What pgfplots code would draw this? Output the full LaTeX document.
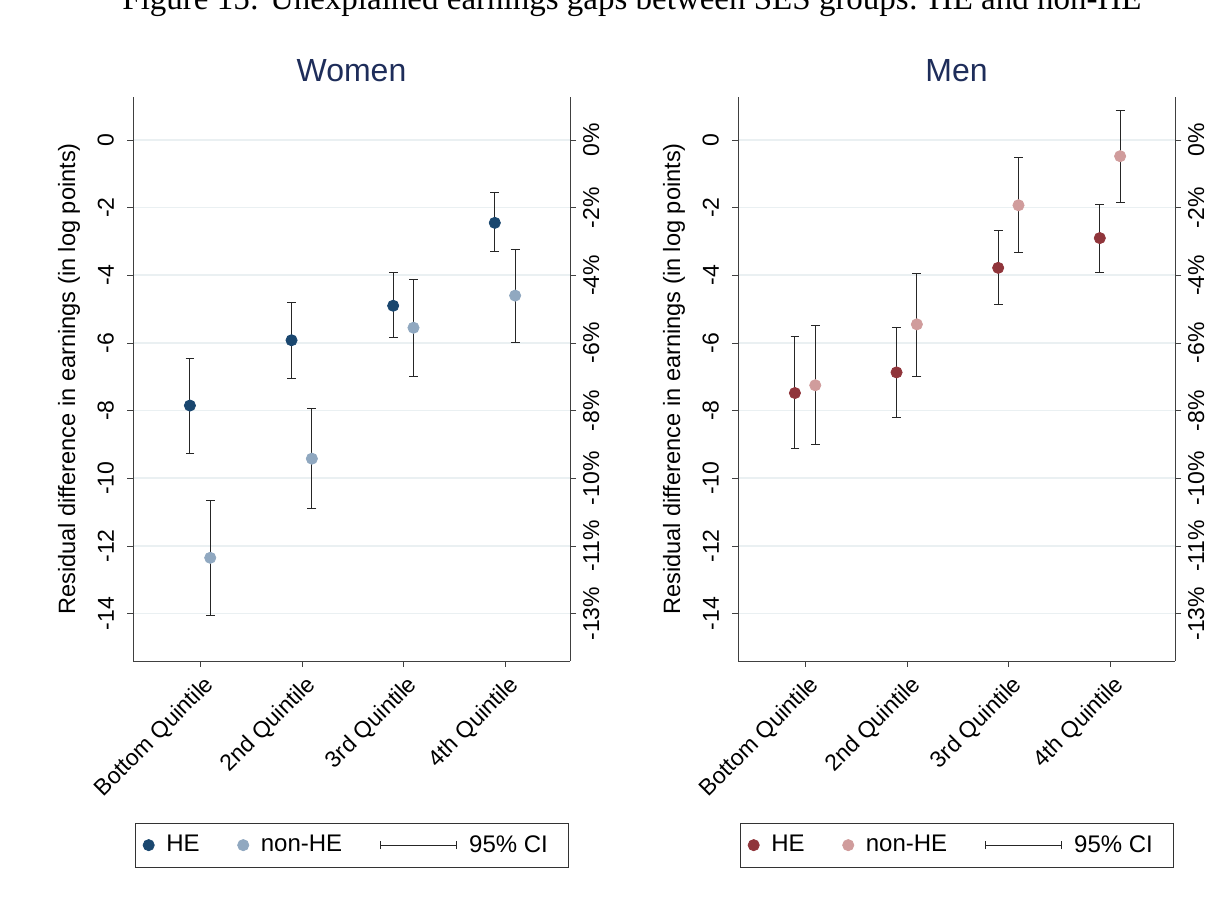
\documentclass[border=0pt]{standalone}
\usepackage{pgfplots}
\pgfplotsset{compat=1.18}
\usepackage{pgfplotstable}
\usepackage{fontspec}
\setmainfont{Liberation Sans}
\newfontfamily\serif{Liberation Serif}
\definecolor{wHE}{HTML}{1A476F}
\definecolor{wNH}{HTML}{90A8C0}
\definecolor{mHE}{HTML}{90353B}
\definecolor{mNH}{HTML}{D09C9C}
\definecolor{ttl}{HTML}{1E2D5A}
\definecolor{grd}{HTML}{EAF0F2}
\pgfplotstableread{
x y lo hi
0.9 -7.85 -9.25 -6.45
1.9 -5.92 -7.05 -4.80
2.9 -4.90 -5.85 -3.92
3.9 -2.45 -3.30 -1.55
}\wHEtab
\pgfplotstableread{
x y lo hi
1.1 -12.35 -14.05 -10.65
2.1 -9.42 -10.90 -7.92
3.1 -5.55 -6.98 -4.13
4.1 -4.60 -5.98 -3.22
}\wNHtab
\pgfplotstableread{
x y lo hi
0.9 -7.48 -9.12 -5.82
1.9 -6.87 -8.20 -5.53
2.9 -3.78 -4.87 -2.68
3.9 -2.90 -3.90 -1.90
}\mHEtab
\pgfplotstableread{
x y lo hi
1.1 -7.25 -9.00 -5.48
2.1 -5.45 -6.98 -3.93
3.1 -1.93 -3.32 -0.53
4.1 -0.48 -1.85 0.88
}\mNHtab
\pgfplotsset{
  base/.style={
    scale only axis, width=218.5pt, height=282pt,
    anchor=south west,
    xmin=0.34, xmax=4.64, ymin=-15.4, ymax=1.27,
    xtick={1,2,3,4},
    xticklabels={Bottom Quintile,2nd Quintile,3rd Quintile,4th Quintile},
    xticklabel style={rotate=45, anchor=north east, font=\fontsize{11.5}{13}\selectfont, xshift=2pt},
    ytick={0,-2,-4,-6,-8,-10,-12,-14},
    yticklabel style={rotate=90, anchor=south, font=\fontsize{11.5}{13}\selectfont, yshift=3pt},
    /pgf/number format/assume math mode=true,
    ymajorgrids, grid style={grd, line width=0.8pt},
    axis x line*=bottom, axis y line*=left,
    tick align=outside, major tick length=3pt,
    axis line style={black!75}, tick style={black!75},
    title style={font=\fontsize{16}{18}\selectfont, text=ttl, yshift=-2pt},
    ylabel={Residual difference in earnings (in log points)},
    ylabel style={font=\fontsize{11.8}{13}\selectfont, yshift=2pt},
    legend style={at={(0.5,-0.287)}, anchor=north, legend columns=3,
      font=\fontsize{12}{14}\selectfont, draw=black!80, inner sep=4pt,
      /tikz/every even column/.append style={column sep=13pt},
      nodes={inner xsep=6pt}},
  },
  rgt/.style={
    scale only axis, width=218.5pt, height=282pt,
    anchor=south west,
    xmin=0.34, xmax=4.64, ymin=-15.4, ymax=1.27,
    axis x line=none, axis y line*=right,
    ytick={0,-2,-4,-6,-8,-10,-12,-14},
    yticklabels={0\%,-2\%,-4\%,-6\%,-8\%,-10\%,-11\%,-13\%},
    yticklabel style={rotate=90, anchor=north, font=\fontsize{11.5}{13}\selectfont},
    tick align=outside, major tick length=3pt,
    axis line style={black!75}, tick style={black!75},
  },
  pts/.style={only marks, mark=*, mark size=2.8pt, color=#1, mark options={fill=#1, draw=#1},
    error bars/.cd, y dir=both, y explicit,
    error bar style={black!85, line width=0.5pt},
    error mark options={rotate=90, mark size=2.2pt, black!85}},
}
\newcommand{\ciimage}{\addlegendimage{legend image code/.code={
  \draw[black!85, line width=0.5pt] (0pt,0pt)--(38pt,0pt);
  \draw[black!85, line width=0.5pt] (0pt,-2pt)--(0pt,2pt);
  \draw[black!85, line width=0.5pt] (38pt,-2pt)--(38pt,2pt);}}}
\newcommand{\ser}[2]{\addplot[pts=#1] table[x=x, y=y, y error plus expr=\thisrow{hi}-\thisrow{y}, y error minus expr=\thisrow{y}-\thisrow{lo}] {#2};}
\begin{document}
\begin{tikzpicture}
\useasboundingbox (0,0) rectangle (604pt,457pt);
\node[font=\serif\fontsize{16.5}{18}\selectfont, anchor=base] at (316pt,452pt) {Figure 15: Unexplained earnings gaps between SES groups: HE and non-HE};
\begin{axis}[base, at={(66.5pt,126.5pt)}, title={Women}]
\ser{wHE}{\wHEtab}
\addlegendentry{HE}
\ser{wNH}{\wNHtab}
\addlegendentry{non-HE}
\ciimage
\addlegendentry{95\% CI}
\end{axis}
\begin{axis}[rgt, at={(66.5pt,126.5pt)}]
\end{axis}
\begin{axis}[base, at={(369pt,126.5pt)}, title={Men}]
\ser{mHE}{\mHEtab}
\addlegendentry{HE}
\ser{mNH}{\mNHtab}
\addlegendentry{non-HE}
\ciimage
\addlegendentry{95\% CI}
\end{axis}
\begin{axis}[rgt, at={(369pt,126.5pt)}]
\end{axis}
\end{tikzpicture}
\end{document}
